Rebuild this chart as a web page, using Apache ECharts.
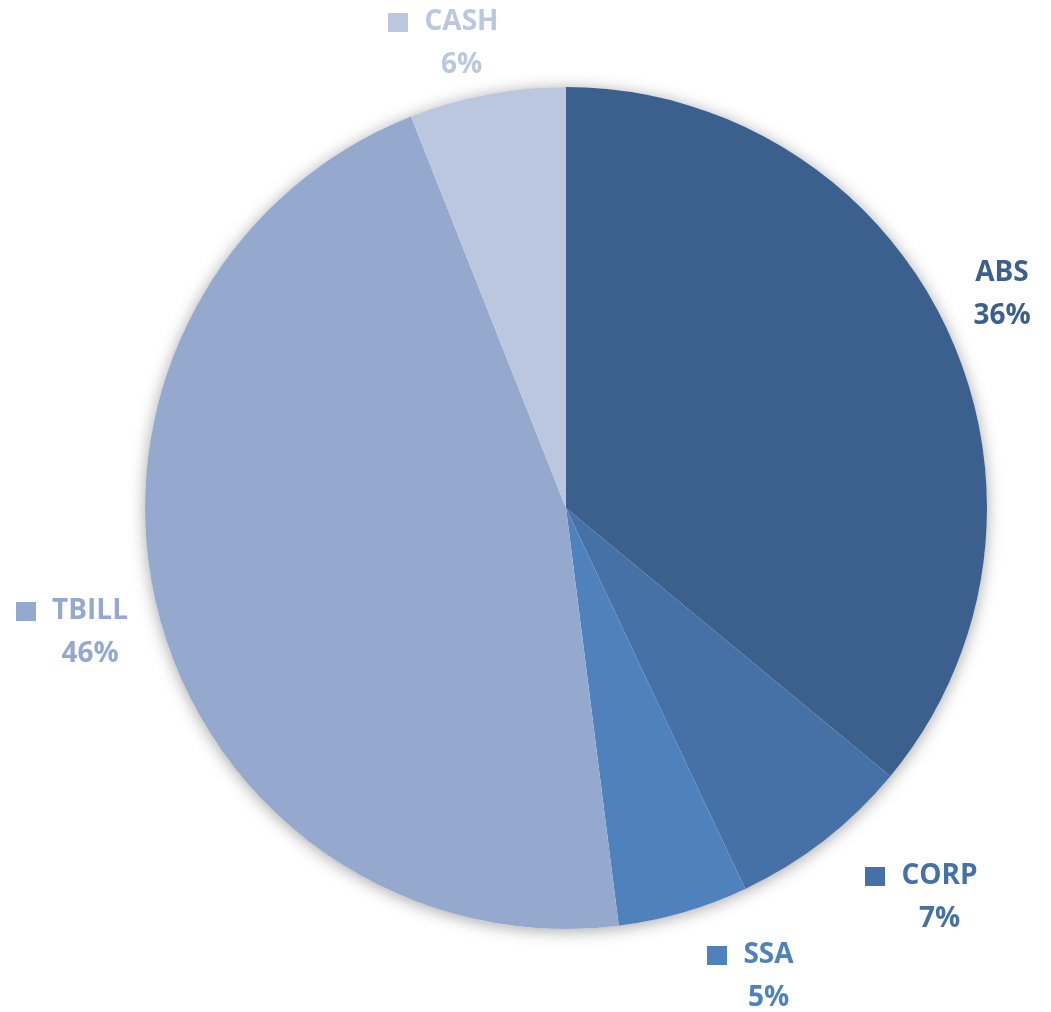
<!DOCTYPE html>
<html>
<head>
<meta charset="utf-8">
<script src="https://cdn.jsdelivr.net/npm/echarts@6/dist/echarts.min.js"></script>
<style>
  html, body { margin: 0; padding: 0; background: #ffffff; }
  #chart { width: 1051px; height: 1012px; }
</style>
</head>
<body>
<div id="chart"></div>
<script>
// Portfolio allocation by asset type (percent of total)
const categories = ['ABS', 'CORP', 'SSA', 'TBILL', 'CASH'];
const shares = [36, 7, 5, 46, 6];
const sliceColors = ['#3b608d', '#4571a6', '#4f81bd', '#95a9cf', '#bac7df'];
// Whether a label shows the small colour key square before its name
const showKey = [false, true, true, true, true];

// Label block anchors: [x, y, horizontal alignment]; y is the block's middle
const labelAnchors = {
  ABS:   [1002, 295, 'center'],
  CORP:  [865, 898, 'left'],
  SSA:   [707, 977, 'left'],
  TBILL: [16, 633, 'left'],
  CASH:  [388, 44, 'left']
};

const FONT_FAMILY = '"Open Sans", Lato, sans-serif';
const FONT_SIZE = 28;
const KEY_SIZE = 20;
const KEY_GAP = 16;

// measure label text so the percentage can be centred under the name
const measureCtx = document.createElement('canvas').getContext('2d');
measureCtx.font = 'bold ' + FONT_SIZE + 'px ' + FONT_FAMILY;
function textWidth(s) { return Math.ceil(measureCtx.measureText(s).width); }

function labelFor(name, value, color, withKey) {
  const pct = value + '%';
  const w = Math.max(textWidth(name), textWidth(pct));
  const txt = { width: w, align: 'center', fontFamily: FONT_FAMILY, fontWeight: 'bold',
                fontSize: FONT_SIZE, color: color, lineHeight: 43 };
  return {
    rich: {
      sq:  { width: KEY_SIZE, height: KEY_SIZE - 1, backgroundColor: color },
      gap: { width: KEY_GAP },
      pad: { width: KEY_SIZE + KEY_GAP },
      n: txt,
      p: txt
    },
    formatter: withKey
      ? '{sq|}{gap|}{n|' + name + '}\n{pad|}{p|' + pct + '}'
      : '{n|' + name + '}\n{p|' + pct + '}'
  };
}

const data = categories.map((name, i) => ({
  name: name,
  value: shares[i],
  itemStyle: { color: sliceColors[i] },
  label: labelFor(name, shares[i], sliceColors[i], showKey[i])
}));

const chart = echarts.init(document.getElementById('chart'), null, { renderer: 'canvas' });

chart.setOption({
  backgroundColor: '#ffffff',
  animation: false,
  series: [
    {
      // soft drop shadow under the whole pie
      type: 'pie',
      silent: true,
      z: 1,
      center: [566, 508],
      radius: [0, 421],
      label: { show: false },
      labelLine: { show: false },
      itemStyle: {
        color: '#ffffff',
        shadowBlur: 16,
        shadowColor: 'rgba(0,0,0,0.35)',
        shadowOffsetY: 2
      },
      data: [{ value: 1, name: '' }]
    },
    {
      type: 'pie',
      z: 2,
      center: [566, 508],
      radius: [0, 421],
      startAngle: 90,
      clockwise: true,
      avoidLabelOverlap: false,
      label: { show: true, position: 'outside' },
      labelLine: { show: false },
      labelLayout: function (params) {
        const a = labelAnchors[categories[params.dataIndex]];
        return { x: a[0], y: a[1], align: a[2], verticalAlign: 'middle' };
      },
      itemStyle: { borderWidth: 0 },
      emphasis: { disabled: true },
      data: data
    }
  ]
});
</script>
</body>
</html>
